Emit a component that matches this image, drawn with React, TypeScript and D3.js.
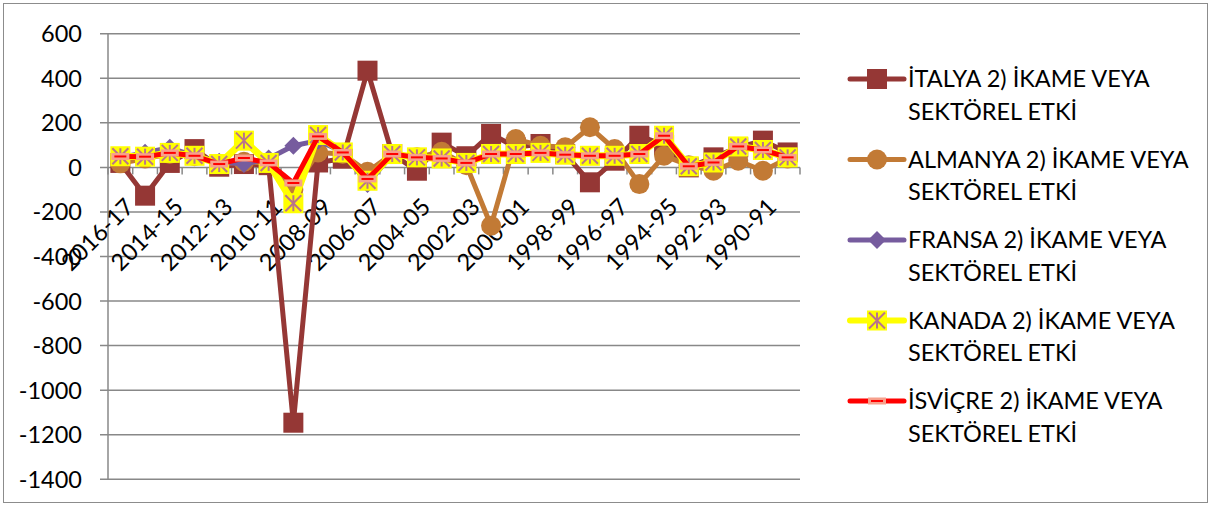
import React from "react";
import * as d3 from "d3";

const categories = ["2016-17","2015-16","2014-15","2013-14","2012-13","2011-12","2010-11","2009-10","2008-09","2007-08","2006-07","2005-06","2004-05","2003-04","2002-03","2001-02","2000-01","1999-00","1998-99","1997-98","1996-97","1995-96","1994-95","1993-94","1992-93","1991-92","1990-91","1989-90"];

const italya = [20,-127,20,82,3,15,10,-1146,22,39,434,60,-15,111,50,150,90,105,60,-67,30,142,100,0,45,90,120,67];
const almanya = [18,40,60,50,15,25,20,-100,67,60,-20,60,45,70,10,-262,127,97,90,180,82,-75,52,10,-15,30,-15,40];
const fransa = [45,66,88,52,25,15,40,97,120,70,-75,60,45,40,20,60,60,65,57,52,52,60,142,5,22,94,78,45];
const kanada = [50,48,65,52,15,120,20,-161,145,67,-60,60,45,40,20,60,60,65,57,52,52,60,142,5,22,94,78,45];
const isvicre = [49,48,65,52,15,42,20,-70,139,67,-52,60,45,40,20,60,60,65,57,52,52,60,142,5,22,94,78,45];

const yTicks = [600,400,200,0,-200,-400,-600,-800,-1000,-1200,-1400];
const seriesNames = ["İTALYA 2) İKAME VEYA", "ALMANYA 2) İKAME VEYA", "FRANSA 2) İKAME VEYA", "KANADA 2) İKAME VEYA", "İSVİÇRE 2) İKAME VEYA"];
const nameLine2 = "SEKTÖREL ETKİ";

const W = 1212, H = 507;
const FONT = "Lato, 'Open Sans', sans-serif";
const FS = 23.5;
const colors = ["#953735", "#c27a35", "#765c9e", "#ffff00", "#ff0000"];
const widths = [5, 5, 5, 7, 5];

function Marker({ k, x, y }: { k: number; x: number; y: number }) {
  if (k === 0) return <rect x={x - 10} y={y - 10} width={20} height={20} fill="#953735" />;
  if (k === 1) return <circle cx={x} cy={y} r={10} fill="#c27a35" />;
  if (k === 2) return <path d={`M${x},${y - 9}L${x + 9},${y}L${x},${y + 9}L${x - 9},${y}Z`} fill="#765c9e" />;
  if (k === 3) {
    const s = 8;
    return (
      <g>
        <rect x={x - 10} y={y - 10} width={20} height={20} fill="#ffff00" />
        <g stroke="#b9748c" strokeWidth={2}>
          <line x1={x} y1={y - s} x2={x} y2={y + s} />
          <line x1={x - s} y1={y - s} x2={x + s} y2={y + s} />
          <line x1={x + s} y1={y - s} x2={x - s} y2={y + s} />
        </g>
      </g>
    );
  }
  return (
    <g>
      <rect x={x - 9} y={y - 3.5} width={18} height={7} fill="#f7a08c" />
      <line x1={x - 6} y1={y} x2={x + 6} y2={y} stroke="#ff0000" strokeWidth={2} />
    </g>
  );
}

export default function App() {
  const left = 108, right = 800;
  const x = d3.scaleBand<string>().domain(categories).range([left, right]).paddingInner(0).paddingOuter(0);
  const cx = (c: string) => (x(c) as number) + x.bandwidth() / 2;
  const y = d3.scaleLinear().domain([-1400, 600]).range([479.3, 33.7]);
  const series = [italya, almanya, fransa, kanada, isvicre];
  const line = d3.line<number>().x((_, i) => cx(categories[i])).y((v) => y(v)).curve(d3.curveLinear);
  const boundaries = d3.range(categories.length + 1).map((i) => left + i * x.bandwidth());

  return (
    <svg width={W} height={H} style={{ position: "absolute", left: 0, top: 0, background: "#fff" }} fontFamily={FONT}>
      <rect x={3.5} y={3.5} width={1204} height={499} fill="#fff" stroke="#8c8c8c" strokeWidth={1} />
      {yTicks.map((t) => (
        <g key={t}>
          <line x1={left - 8} x2={right} y1={y(t)} y2={y(t)} stroke="#888" strokeWidth={1.5} />
          <text x={82} y={y(t)} dy="0.36em" textAnchor="end" fontSize={FS} fill="#000">{t}</text>
        </g>
      ))}
      <line x1={left} x2={left} y1={y(600)} y2={y(-1400)} stroke="#888" strokeWidth={1.5} />
      {boundaries.map((b, i) => (
        <line key={i} x1={b} x2={b} y1={y(0)} y2={y(0) + 7} stroke="#888" strokeWidth={1.5} />
      ))}
      {categories.map((c, i) =>
        i % 2 === 0 ? (
          <text key={c} transform={`translate(${cx(c) + 3},${y(0) + 29}) rotate(-45)`} textAnchor="end" dy="0.72em" fontSize={FS} fill="#000">
            {c}
          </text>
        ) : null
      )}
      {series.map((s, k) => (
        <g key={k}>
          <path d={line(s) as string} fill="none" stroke={colors[k]} strokeWidth={widths[k]} strokeLinejoin="round" strokeLinecap="round" />
          {s.map((v, i) => (
            <Marker key={i} k={k} x={cx(categories[i])} y={y(v)} />
          ))}
        </g>
      ))}
      {seriesNames.map((n, k) => {
        const ly = 79 + k * 80.5;
        return (
          <g key={n}>
            <line x1={850} x2={904} y1={ly} y2={ly} stroke={colors[k]} strokeWidth={widths[k] === 7 ? 6 : 5} strokeLinecap="round" />
            <Marker k={k} x={877} y={ly} />
            <text x={908} y={ly} dy="0.36em" fontSize={FS} fill="#000">{n}</text>
            <text x={908} y={ly + 32.5} dy="0.36em" fontSize={FS} fill="#000">{nameLine2}</text>
          </g>
        );
      })}
    </svg>
  );
}
